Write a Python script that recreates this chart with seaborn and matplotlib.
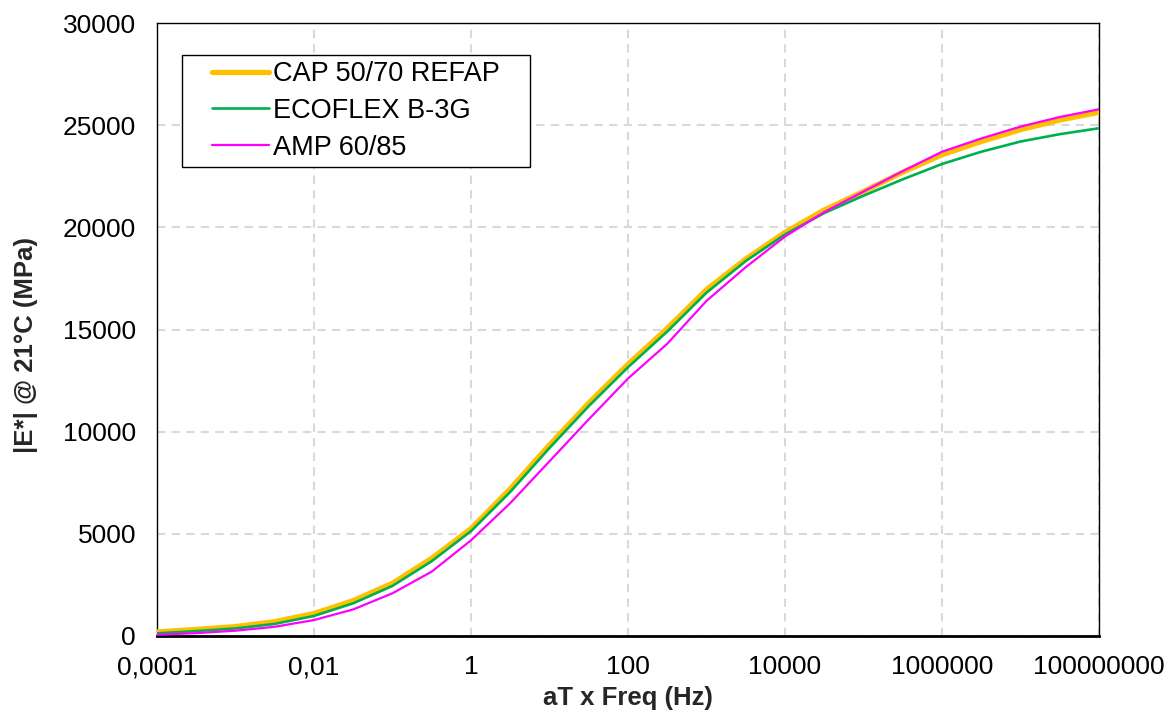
import numpy as np
import pandas as pd
import matplotlib
matplotlib.use("Agg")
import matplotlib.pyplot as plt
from matplotlib.legend_handler import HandlerLine2D
from matplotlib.lines import Line2D
import seaborn as sns

# Reduced frequency (Hz), half-decade steps from 1e-4 to 1e8
log_freq = [-4.0, -3.5, -3.0, -2.5, -2.0, -1.5, -1.0, -0.5, 0.0, 0.5, 1.0, 1.5,
            2.0, 2.5, 3.0, 3.5, 4.0, 4.5, 5.0, 5.5, 6.0, 6.5, 7.0, 7.5, 8.0]
freq = [10.0 ** v for v in log_freq]

# |E*| master curves at 21 °C (MPa)
cap_50_70_refap = [200, 320, 460, 700, 1100, 1730, 2580, 3800, 5250, 7200, 9350, 11400,
                   13300, 15050, 16950, 18450, 19750, 20850, 21750, 22700, 23550, 24200,
                   24780, 25250, 25630]
ecoflex_b3g = [130, 240, 370, 590, 980, 1600, 2450, 3660, 5130, 7050, 9200, 11250,
               13150, 14900, 16800, 18350, 19650, 20700, 21550, 22350, 23100, 23700,
               24200, 24560, 24850]
amp_60_85 = [60, 140, 260, 450, 780, 1300, 2090, 3150, 4680, 6500, 8550, 10600,
             12600, 14300, 16400, 18050, 19550, 20750, 21750, 22750, 23700, 24350,
             24930, 25400, 25780]

series_names = ["CAP 50/70 REFAP", "ECOFLEX B-3G", "AMP 60/85"]
series_values = [cap_50_70_refap, ecoflex_b3g, amp_60_85]
series_colors = ["#FFC000", "#00B050", "#FF00FF"]
series_widths = [3.8, 1.9, 1.6]

x_ticks = [1e-4, 1e-2, 1, 1e2, 1e4, 1e6, 1e8]
x_tick_labels = ["0,0001", "0,01", "1", "100", "10000", "1000000", "100000000"]
y_ticks = [0, 5000, 10000, 15000, 20000, 25000, 30000]

df = pd.concat(
    [pd.DataFrame({"freq": freq, "modulus": vals, "binder": name})
     for name, vals in zip(series_names, series_values)],
    ignore_index=True,
)


class InsetLineHandler(HandlerLine2D):
    """Legend line sample drawn on the right part of the handle box only."""

    def __init__(self, start_frac=0.3, **kw):
        super().__init__(**kw)
        self.start_frac = start_frac

    def create_artists(self, legend, orig_handle, xdescent, ydescent,
                       width, height, fontsize, trans):
        artists = super().create_artists(legend, orig_handle, xdescent, ydescent,
                                         width, height, fontsize, trans)
        x0 = -xdescent + self.start_frac * width
        x1 = -xdescent + width
        for a in artists:
            if isinstance(a, Line2D):
                y = a.get_ydata()
                if len(y) >= 2:
                    a.set_xdata([x0, x1])
                    a.set_ydata([y[0], y[0]])
        return artists


sns.set_theme(style="white")
plt.rcParams["font.family"] = ["Liberation Sans", "DejaVu Sans"]

fig, ax = plt.subplots(figsize=(11.71, 7.13), dpi=100)
fig.subplots_adjust(left=0.134, right=0.9385, bottom=0.108, top=0.9677)

for name, color, lw in zip(series_names, series_colors, series_widths):
    sns.lineplot(
        data=df[df["binder"] == name], x="freq", y="modulus",
        color=color, linewidth=lw, ax=ax, label=name,
        solid_capstyle="round", zorder=3,
    )

ax.set_xscale("log")
ax.set_xlim(1e-4, 1e8)
ax.set_ylim(0, 30000)
ax.set_xticks(x_ticks)
ax.set_xticklabels(x_tick_labels)
ax.set_yticks(y_ticks)
ax.set_yticklabels([str(v) for v in y_ticks])
ax.minorticks_off()
ax.tick_params(axis="both", length=0, labelsize=19, colors="black")
ax.tick_params(axis="x", pad=14)
ax.tick_params(axis="y", pad=15)

ax.grid(True, color="#D9D9D9", linestyle=(0, (4, 3)), linewidth=1.5, zorder=0)
ax.set_axisbelow(True)

for side in ["left", "right", "top"]:
    ax.spines[side].set_visible(True)
    ax.spines[side].set_color("black")
    ax.spines[side].set_linewidth(1.0)
ax.spines["bottom"].set_color("black")
ax.spines["bottom"].set_linewidth(2.0)

ax.set_xlabel("aT x Freq (Hz)", fontsize=18.5, fontweight="bold", labelpad=5)
ax.set_ylabel("|E*| @ 21°C (MPa)", fontsize=18.5, fontweight="bold")
ax.yaxis.set_label_coords(-0.126, 0.475)

handles, labels = ax.get_legend_handles_labels()
leg = ax.legend(
    handles, labels,
    loc="upper left", bbox_to_anchor=(0.0265, 0.9478, 0.3694, 0.0),
    mode="expand", fontsize=19.5,
    frameon=True, fancybox=False, framealpha=1, edgecolor="black",
    handlelength=3.0, handletextpad=0.15, labelspacing=0.4,
    borderpad=0.22, borderaxespad=0,
    handler_map={Line2D: InsetLineHandler(start_frac=0.3)},
)
leg.get_frame().set_linewidth(1.0)
for text in leg.get_texts():
    text.set_color("black")

fig.savefig("out.png", dpi=100)
